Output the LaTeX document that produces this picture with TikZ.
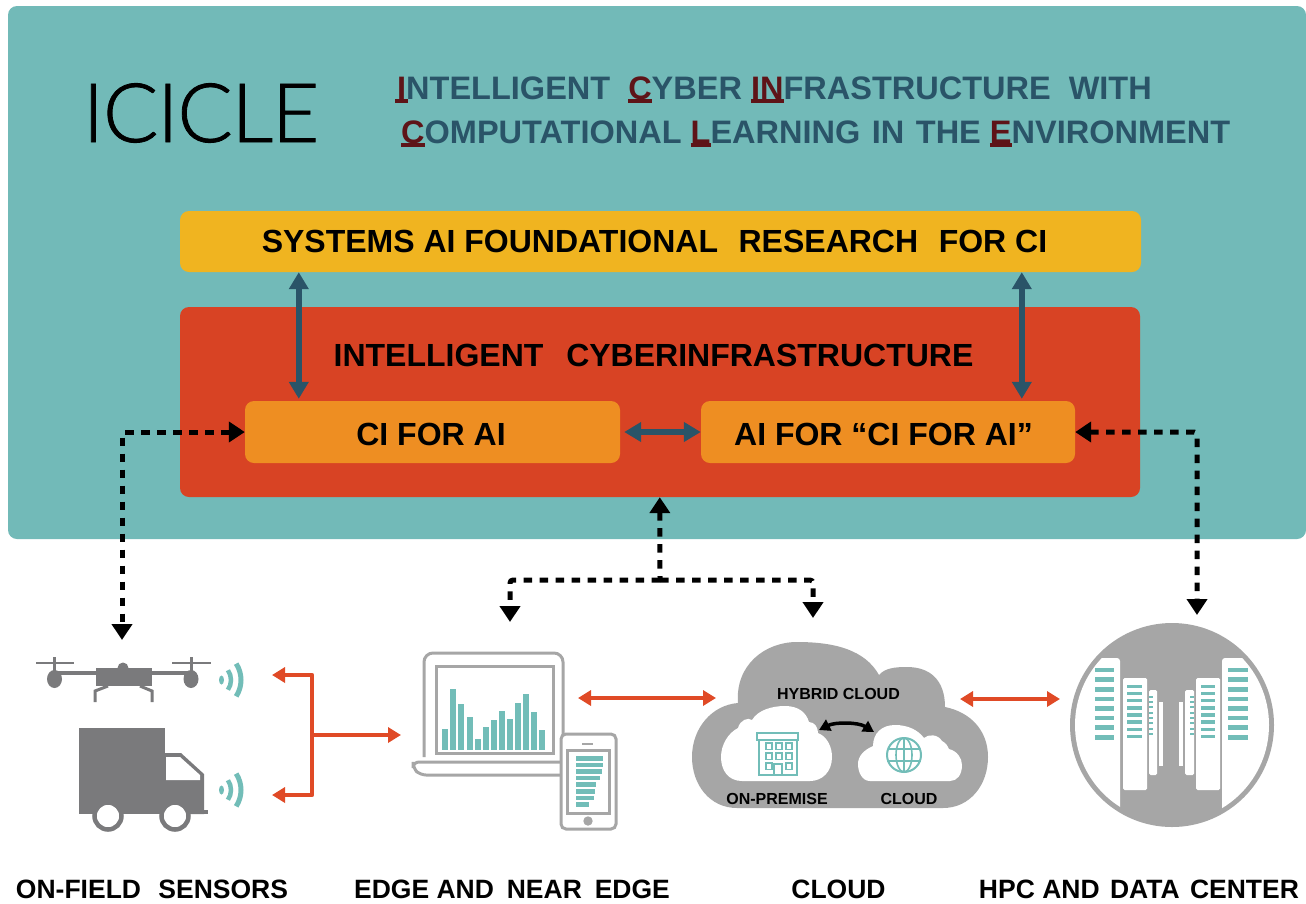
\documentclass[tikz,border=0pt]{standalone}
\usepackage{fontspec}
\setmainfont{Liberation Sans}
\newfontfamily\thinfont[FakeBold=1,LetterSpace=-1.5]{Lato Light}
\usetikzlibrary{arrows.meta,calc}
\definecolor{panelteal}{HTML}{72BAB8}
\definecolor{darkblue}{HTML}{2A5468}
\definecolor{darkred}{HTML}{5E1418}
\definecolor{boxyellow}{HTML}{F0B420}
\definecolor{boxred}{HTML}{D84324}
\definecolor{boxorange}{HTML}{EE8E22}
\definecolor{arrowred}{HTML}{E04A26}
\definecolor{icongray}{HTML}{7A7A7C}
\definecolor{lightgray}{HTML}{A6A6A6}
\definecolor{barteal}{HTML}{72BDB8}
\newsavebox{\ulbox}
\newcommand{\redul}[1]{\sbox{\ulbox}{#1}\rlap{\color{darkred}\rule[-4pt]{\wd\ulbox}{3.8pt}}{\color{darkred}#1}}
\newcommand{\redulI}{\rlap{\color{darkred}\hspace{-2pt}\rule[-4pt]{13pt}{3.8pt}}{\color{darkred}I}}
\tikzset{
  lbl/.style={inner sep=0pt,anchor=base,font=\bfseries,text=black},
  biglbl/.style={lbl,font=\fontsize{32}{32}\selectfont\bfseries},
  botlbl/.style={lbl,font=\fontsize{26.5}{26.5}\selectfont\bfseries},
  smalllbl/.style={lbl,font=\fontsize{16}{16}\selectfont\bfseries},
  headline/.style={inner sep=0pt,anchor=base west,text=darkblue,font=\fontsize{32.5}{32.5}\selectfont\bfseries},
  rbox/.style={rectangle,rounded corners=9pt,inner sep=0pt},
  bluearrow/.style={line width=5.5pt,draw=darkblue,{Triangle[width=19pt,length=17pt]}-{Triangle[width=19pt,length=17pt]}},
  dotline/.style={line width=5pt,draw=black,dash pattern=on 8.5pt off 7.5pt,rounded corners=3pt},
  redwire/.style={line width=4.5pt,draw=arrowred,line join=round},
  wavearc/.style={draw=barteal,line cap=butt},
  outline/.style={draw=lightgray,line width=3pt},
  bld/.style={draw=barteal,line width=1.6pt},
}
\begin{document}
\begin{tikzpicture}[x=1pt,y=-1pt]
\useasboundingbox (0,0) rectangle (1306,903);
% panel
\fill[white] (0,0) rectangle (1306,903);
\fill[panelteal,rounded corners=9pt] (8,6) -- (8,539) -- (1306,539) -- (1306,6) -- cycle;
\node[inner sep=0pt,anchor=base,font=\thinfont\fontsize{82}{82}\selectfont,text=black] (title) at (201,142) {ICICLE};
\node[headline] (line1) at (397,99) {\redulI NTELLIGENT\hspace{9pt} \redul{C}YBER \redul{IN}FRASTRUCTURE\hspace{9pt} WITH};
\node[headline] (line2) at (401,143) {\redul{C}OMPUTATIONAL \redul{L}EARNING\hspace{2.5pt} IN\hspace{2.5pt} THE \redul{E}NVIRONMENT};
% boxes
\node[rbox,fill=boxyellow,minimum width=961pt,minimum height=61pt] (yellow) at (660.5,241.5) {};
\node[rbox,fill=boxred,minimum width=960pt,minimum height=190pt] (redbox) at (660,402) {};
\node[rbox,fill=boxorange,minimum width=375pt,minimum height=62pt] (cibox) at (432.5,432) {};
\node[rbox,fill=boxorange,minimum width=374pt,minimum height=62pt] (aibox) at (888,432) {};
\node[biglbl] (t1) at (654.5,252) {SYSTEMS AI FOUNDATIONAL\hspace{11.7pt} RESEARCH\hspace{11.7pt} FOR CI};
\node[biglbl] (t2) at (653.5,366) {INTELLIGENT\hspace{14pt} CYBERINFRASTRUCTURE};
\node[biglbl] (t3) at (431,445) {CI FOR AI};
\node[biglbl] (t4) at (883.5,445) {AI FOR “CI FOR AI”};
% blue arrows
\draw[bluearrow,shorten >=2pt] ($(yellow.south west)+(119,0)$) -- ($(cibox.north west)+(54,0)$);
\draw[bluearrow,shorten >=2pt] ($(yellow.south west)+(842,0)$) -- ($(aibox.north west)+(321,0)$);
\draw[bluearrow,shorten <=4pt] (cibox.east) -- (aibox.west);
% dotted connectors
\coordinate (drone) at (122,640);
\coordinate (hpctop) at (1197,615);
\coordinate (edgetop) at (510,622);
\coordinate (cloudtop) at (813,618);
\coordinate (hub) at (660,580);
\draw[dotline,{Triangle[width=20pt,length=16pt]}-{Triangle[width=20pt,length=16pt]}] (cibox.west) -| (drone);
\draw[dotline,{Triangle[width=20pt,length=16pt]}-{Triangle[width=20pt,length=16pt]}] (aibox.east) -| (hpctop);
\draw[dotline,{Triangle[width=20pt,length=16pt]}-] ($(redbox.south west)+(480,0)$) -- (hub);
\draw[dotline,-{Triangle[width=20pt,length=16pt]}] (hub) -| (edgetop);
\draw[dotline,-{Triangle[width=20pt,length=16pt]}] (hub) -| (cloudtop);
% red connectors
\coordinate (sensTop) at (272,675);
\coordinate (sensBot) at (272,795);
\coordinate (edgeIn) at (401,735);
\coordinate (edgeR) at (578,698);
\coordinate (cloudL) at (716,698);
\coordinate (cloudR) at (960,699);
\coordinate (hpcL) at (1060,699);
\coordinate (hubr) at (312,735);
\draw[redwire,{Triangle[width=15pt,length=13pt]}-{Triangle[width=15pt,length=13pt]}] (sensTop) -- (312,675) -- (312,795) -- (sensBot);
\draw[redwire,-{Triangle[width=15pt,length=13pt]}] (hubr) -- (edgeIn);
\draw[redwire,{Triangle[width=15pt,length=13pt]}-{Triangle[width=15pt,length=13pt]}] (edgeR) -- (cloudL);
\draw[redwire,{Triangle[width=15pt,length=13pt]}-{Triangle[width=15pt,length=13pt]}] (cloudR) -- (hpcL);
% drone
\fill[icongray] (96,668) rectangle (152,686);
\fill[icongray] (123,668) circle[radius=5.5];
\draw[icongray,line width=3.5pt] (54.5,673) -- (191,673);
\fill[icongray] (54.5,679) ellipse[x radius=7.5,y radius=9];
\fill[icongray] (191,679) ellipse[x radius=7.5,y radius=9];
\draw[icongray,line width=1.8pt] (36,663) -- (74,663) (172,663) -- (211,663);
\draw[icongray,line width=3pt] (54.5,657) -- (54.5,672) (191,657) -- (191,672);
\draw[icongray,line width=3pt] (108,686) -- (95,691) -- (95,702) (140,686) -- (152,691) -- (152,702);
% waves
\foreach \wy in {680,790}{
  \fill[barteal] (221.5,\wy) ellipse[x radius=2.5,y radius=4.5];
  \draw[wavearc,line width=4.5pt] ({214+17*cos(35)},{\wy-17*sin(35)}) arc[start angle=-35,end angle=35,radius=17];
  \draw[wavearc,line width=5pt] ({211+30*cos(33)},{\wy-30*sin(33)}) arc[start angle=-33,end angle=33,radius=30];
}
% truck
\fill[icongray] (79,728) rectangle (165,814);
\fill[icongray] (165,753) -- (181,753) -- (204,774) -- (204,814) -- (165,814) -- cycle;
\fill[white] (166,757) -- (180,757) -- (200,775) -- (200,780) -- (166,780) -- cycle;
\fill[icongray] (199,810) rectangle (208,814);
\foreach \wx in {108,175}{
  \filldraw[fill=white,draw=icongray,line width=4.5pt] (\wx,816) circle[radius=13.5];
}
% laptop
\draw[outline,rounded corners=9pt] (424,757) -- (424,653) -- (563,653) -- (563,735);
\draw[outline] (436,666) rectangle (553,753);
\draw[outline,rounded corners=6pt] (562,762) -- (413,762) -- (413,768) -- (420,775) -- (562,775);
\foreach \i/\t in {0/296,1/177,2/222,3/260,4/328,5/292,6/270,7/242,8/266,9/220,10/193,11/245,12/300}{
  \fill[barteal] ({442.3+8.07*\i},{630+\t/3}) rectangle ({448.3+8.07*\i},750);
}
% phone
\draw[outline,fill=white,rounded corners=5pt] (561,734) rectangle (616,829);
\draw[outline] (567,750) rectangle (609,813);
\draw[draw=lightgray,line width=2.5pt] (582,744) -- (593,744);
\fill[lightgray] (588,821) circle[radius=4.7];
\foreach \i/\r in {0/610,1/610,2/605,3/600,4/588,5/585,6/582,7/568}{
  \fill[barteal] (576,{756+6.6*\i}) rectangle ({400+\r/3},{760.5+6.6*\i});
}
% hybrid cloud
\fill[lightgray] (737,808) .. controls (710,808) and (692,785) .. (692,757) .. controls (692,728) and (712,705) .. (738,703) .. controls (735,665) and (765,642) .. (797,642) .. controls (835,642) and (865,650) .. (879,675) .. controls (885,668) and (895,667) .. (907,667) .. controls (930,667) and (945,680) .. (945,707) .. controls (970,712) and (988,730) .. (988,757) .. controls (988,785) and (970,808) .. (943,808) -- cycle;
\fill[white] (742,781) .. controls (728,781) and (721,770) .. (721,757) .. controls (721,745) and (728,733) .. (738,728) .. controls (740,720) and (748,717) .. (752,720) .. controls (758,710) and (772,706) .. (785,706) .. controls (798,706) and (806,712) .. (809,722) .. controls (815,722) and (818,728) .. (818,733) .. controls (828,737) and (832,748) .. (832,757) .. controls (832,772) and (822,781) .. (810,781) -- cycle;
\fill[white] (870,781) .. controls (862,781) and (858,772) .. (858,764) .. controls (858,756) and (864,750) .. (873,746) .. controls (873,733) and (882,725) .. (895,725) .. controls (908,725) and (918,730) .. (924,738) .. controls (928,734) and (938,734) .. (942,741) .. controls (946,743) and (948,746) .. (949,749) .. controls (957,751) and (962,758) .. (962,765) .. controls (962,775) and (957,781) .. (950,781) -- cycle;
% building
\draw[bld] (759,740) rectangle (797,775);
\draw[bld] (757,733) -- (798,733) -- (798,740) -- (757,740) -- cycle;
\foreach \bx/\by in {766/743,776/743,786/743,766/753,776/753,786/753,766/763,786/763}{
  \draw[bld,line width=1.3pt] (\bx,\by) rectangle ({\bx+6},{\by+6.5});
}
\draw[bld,line width=1.3pt] (774,775) -- (774,764) -- (782,764) -- (782,775);
% globe
\draw[bld,line width=2pt] (904,755) circle[radius=17];
\draw[bld,line width=1.6pt] (904,738) -- (904,772);
\draw[bld,line width=1.6pt] (904,755) ellipse[x radius=8,y radius=17];
\draw[bld,line width=1.6pt] (888,749) -- (920,749) (887,761) -- (921,761);
% curved arrow
\coordinate (onprem) at (819,730);
\coordinate (cloudin) at (874,732);
\draw[line width=3.5pt,{Triangle[width=12pt,length=11pt]}-{Triangle[width=12pt,length=11pt]}] (onprem) .. controls (835,722) and (858,722) .. (cloudin);
\node[smalllbl] (hy) at (838.5,699) {HYBRID CLOUD};
\node[smalllbl] (op) at (777,804) {ON-PREMISE};
\node[smalllbl] (cl) at (909,804) {CLOUD};
% hpc
\fill[lightgray] (1172,725) circle[radius=102];
\begin{scope}
\clip (1172,725) circle[radius=97];
\fill[white,rounded corners=3pt] (1060,658) -- (1120,658) -- (1120,830) -- (1060,830) -- cycle;
\fill[white,rounded corners=3pt] (1222,658) -- (1290,658) -- (1290,830) -- (1222,830) -- cycle;
\end{scope}
\fill[white,rounded corners=1.5pt] (1123,678) rectangle (1147,790);
\fill[white,rounded corners=1.5pt] (1149,690) rectangle (1157,775);
\fill[white] (1159,702) rectangle (1163,766);
\fill[white] (1179,702) rectangle (1183,766);
\fill[white,rounded corners=1.5pt] (1185,690) rectangle (1194,775);
\fill[white,rounded corners=1.5pt] (1196,678) rectangle (1220,790);
\foreach \c in {180,209,238,267,296,324,353,382}{
  \fill[barteal] (1095,{610+\c/3-2.2}) rectangle (1114,{610+\c/3+2.2});
  \fill[barteal] (1228,{610+\c/3-2.2}) rectangle (1248,{610+\c/3+2.2});
}
\foreach \c in {230,251,272,294,315,336,358,379}{
  \fill[barteal] (1127,{610+\c/3-1.8}) rectangle (1142,{610+\c/3+1.8});
  \fill[barteal] (1201,{610+\c/3-1.8}) rectangle (1215,{610+\c/3+1.8});
}
\foreach \c in {260,276,292,308,324,340,356,372}{
  \fill[barteal] (1149,{610+\c/3-1}) rectangle (1153,{610+\c/3+1});
  \fill[barteal] (1190,{610+\c/3-1}) rectangle (1194,{610+\c/3+1});
}
% bottom labels
\node[botlbl] (b1) at (152,898) {ON-FIELD\hspace{10pt} SENSORS};
\node[botlbl] (b2) at (512,898) {EDGE AND\hspace{5.5pt} NEAR\hspace{5.5pt} EDGE};
\node[botlbl] (b3) at (838.5,898) {CLOUD};
\node[botlbl] (b4) at (1139,898) {HPC AND\hspace{3pt} DATA\hspace{3pt} CENTER};
\end{tikzpicture}
\end{document}
